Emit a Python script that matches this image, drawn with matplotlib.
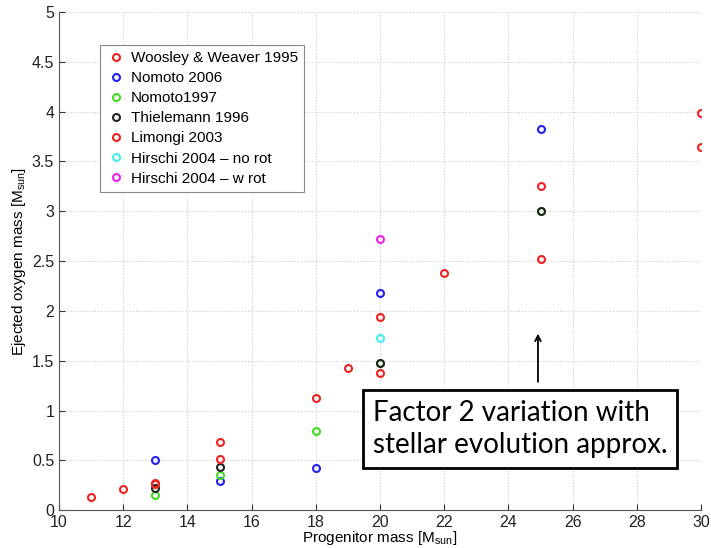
import numpy as np
import matplotlib.pyplot as plt

plt.rcParams['font.family'] = ['Liberation Sans', 'DejaVu Sans']

# oxygen yields per model set: progenitor mass [Msun] -> ejected O mass [Msun]
ww95_m = [11, 12, 13, 15, 18, 19, 20, 22, 25, 30]
ww95_o = [0.13, 0.21, 0.27, 0.68, 1.13, 1.43, 1.94, 2.38, 3.25, 3.99]

nom06_m = [13, 15, 18, 20, 25]
nom06_o = [0.50, 0.29, 0.42, 2.18, 3.83]

nom97_m = [13, 15, 18, 20, 25]
nom97_o = [0.15, 0.355, 0.79, 1.48, 3.0]

thi96_m = [13, 15, 20, 25]
thi96_o = [0.22, 0.43, 1.48, 3.0]

lim03_m = [13, 15, 20, 25, 30]
lim03_o = [0.26, 0.51, 1.38, 2.52, 3.65]

hir_norot_m = [20]
hir_norot_o = [1.73]

hir_rot_m = [20]
hir_rot_o = [2.72]

series = [
    (ww95_m, ww95_o, '#ee2222', 'Woosley & Weaver 1995'),
    (nom06_m, nom06_o, '#2222ee', 'Nomoto 2006'),
    (nom97_m, nom97_o, '#44dd22', 'Nomoto1997'),
    (thi96_m, thi96_o, '#222222', 'Thielemann 1996'),
    (lim03_m, lim03_o, '#ee2222', 'Limongi 2003'),
    (hir_norot_m, hir_norot_o, '#44eeee', 'Hirschi 2004 \u2013 no rot'),
    (hir_rot_m, hir_rot_o, '#ee22ee', 'Hirschi 2004 \u2013 w rot'),
]

fig = plt.figure(figsize=(7.11, 5.48), dpi=100)
ax = fig.add_axes([0.083, 0.069, 0.903, 0.909])

for m, o, c, lab in series:
    ax.plot(m, o, 'o', ls='none', mfc='none', mec=c, ms=5, mew=1.5, label=lab)

ax.set_xlim(10, 30)
ax.set_ylim(0, 5)
ax.set_xticks(np.arange(10, 31, 2))
ax.set_yticks(np.arange(0, 5.01, 0.5))
ax.set_yticklabels(['0', '0.5', '1', '1.5', '2', '2.5', '3', '3.5', '4', '4.5', '5'])
ax.grid(True, ls=':', color='#cccccc', lw=0.8)
ax.tick_params(direction='in', labelsize=11.5, length=4, colors='#333333', labelcolor='#222222')
for s in ['top', 'right']:
    ax.spines[s].set_visible(False)
for s in ['left', 'bottom']:
    ax.spines[s].set_color('#555555')

ax.set_xlabel('Progenitor mass [M$_{\\mathregular{sun}}$]', fontsize=11, labelpad=-1)
ax.set_ylabel('Ejected oxygen mass [M$_{\\mathregular{sun}}$]', fontsize=11, labelpad=3)

leg = ax.legend(loc='upper left', bbox_to_anchor=(0.064, 0.934), borderaxespad=0,
                fontsize=11, handletextpad=0.3, handlelength=1.3, borderpad=0.4,
                labelspacing=0.4, fancybox=False, framealpha=1, edgecolor='#888888')
leg.get_frame().set_linewidth(0.8)

# annotation box with arrow pointing at the 25 Msun spread
ax.annotate('', xy=(24.92, 1.80), xytext=(24.92, 1.26),
            arrowprops=dict(arrowstyle='->', color='black', lw=1.3))
ax.text(19.78, 0.52, 'Factor 2 variation with\nstellar evolution approx.',
        fontsize=20, family='Lato', ha='left', va='bottom', linespacing=1.3,
        bbox=dict(boxstyle='square,pad=0.35', fc='white', ec='black', lw=2))

fig.savefig('out.png', dpi=100)
